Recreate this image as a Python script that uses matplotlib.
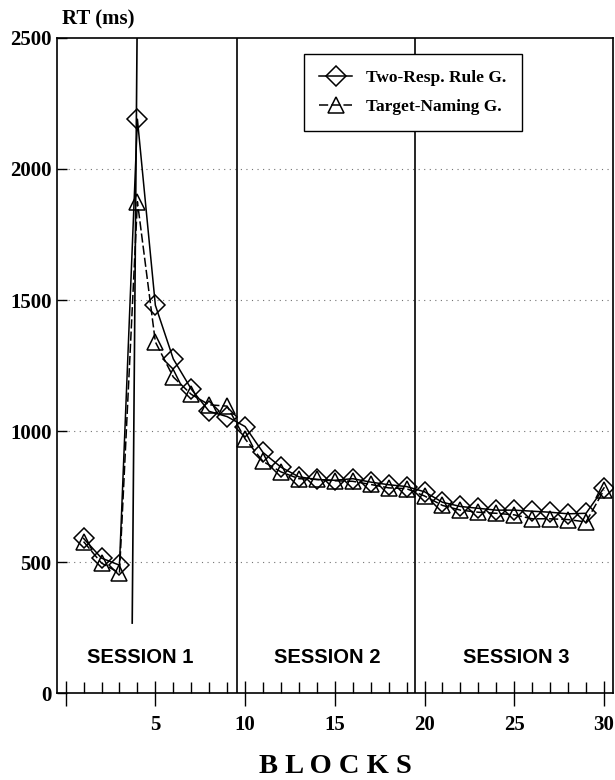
import matplotlib
matplotlib.use('Agg')
from matplotlib import pyplot as plt
from matplotlib.ticker import MultipleLocator

# block numbers and mean RTs (ms)
blocks = list(range(1, 31))
two_resp = [590, 515, 488, 2190, 1480, 1275, 1160, 1075, 1055, 1017,
            918, 862, 825, 815, 812, 818, 805, 795, 788, 768,
            728, 712, 705, 698, 698, 694, 690, 684, 686, 783]
target_naming = [578, 496, 458, 1875, 1340, 1206, 1140, 1100, 1095, 970,
                 884, 844, 818, 815, 810, 808, 796, 783, 780, 752,
                 716, 698, 690, 686, 680, 665, 665, 662, 653, 775]

# session boundaries and the extra line in session 1
session_bounds = [9.57, 19.47]
phase_line_x = [3.71, 3.98]
phase_line_y = [267, 2500]
session_names = ['SESSION 1', 'SESSION 2', 'SESSION 3']
session_centres = [4.17, 14.6, 25.1]

serif = ['Liberation Serif', 'DejaVu Serif']
sans = ['Liberation Sans', 'DejaVu Sans']

fig = plt.figure(figsize=(6.15, 7.8), dpi=100)
ax = fig.add_axes([0.0927, 0.1115, 0.904, 0.8398])

# dotted grid
for yv in [500, 1000, 1500, 2000]:
    ax.axhline(yv, color='0.45', lw=0.8, ls=(0, (1, 4)), zorder=0)

for xb in session_bounds:
    ax.axvline(xb, color='k', lw=1.2, zorder=1)
ax.plot(phase_line_x, phase_line_y, color='k', lw=1.2, zorder=1)

ax.plot(blocks, two_resp, color='k', lw=1.1, marker='D', markersize=10,
        markerfacecolor='none', markeredgewidth=1.1, label='Two-Resp. Rule G.', zorder=3)
ax.plot(blocks, target_naming, color='k', lw=1.1, ls=(0, (6, 2)), marker='^', markersize=12,
        markerfacecolor='none', markeredgewidth=1.1, label='Target-Naming G.', zorder=3)

for name, xc in zip(session_names, session_centres):
    ax.text(xc, 137, name, ha='center', va='center', fontsize=14.5,
            fontweight='bold', family=sans)

ax.set_xlim(-0.48, 30.5)
ax.set_ylim(0, 2500)

ax.set_xticks([0, 5, 10, 15, 20, 25, 30])
ax.set_xticklabels(['', '5', '10', '15', '20', '25', '30'])
ax.xaxis.set_minor_locator(MultipleLocator(1))
ax.tick_params(axis='x', which='major', direction='inout', length=18, width=1, pad=7)
ax.tick_params(axis='x', which='minor', direction='in', length=8, width=1)
ax.set_yticks([0, 500, 1000, 1500, 2000, 2500])
ax.tick_params(axis='y', which='major', direction='in', length=7, width=1, pad=4)
for lab in ax.get_xticklabels() + ax.get_yticklabels():
    lab.set_family(serif)
    lab.set_fontweight('bold')
    lab.set_fontsize(15)

for sp in ax.spines.values():
    sp.set_linewidth(1.2)

leg = ax.legend(loc='upper left', bbox_to_anchor=(0.444, 0.975), frameon=True,
                fancybox=False, edgecolor='k', handlelength=1.9, handletextpad=0.8,
                borderpad=0.9, labelspacing=0.75, borderaxespad=0,
                prop={'family': serif, 'weight': 'bold', 'size': 12.5})
leg.get_frame().set_linewidth(1.0)
leg.get_frame().set_alpha(1)
leg.set_zorder(5)

fig.text(0.1, 0.975, 'RT (ms)', ha='left', va='center', fontsize=15,
         fontweight='bold', family=serif)
fig.text(0.545, 0.017, 'B L O C K S', ha='center', va='center', fontsize=20.5,
         fontweight='bold', family=serif)

fig.savefig('out.png', dpi=100)
